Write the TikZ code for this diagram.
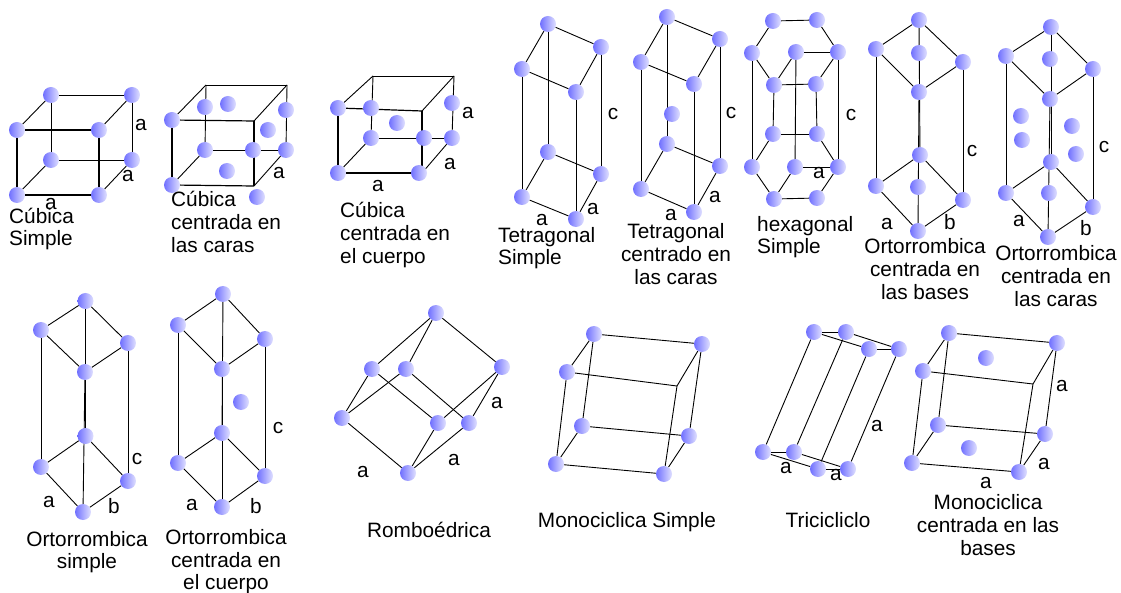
\documentclass[tikz,border=0pt]{standalone}
\usepackage{fontspec}
\usepackage{xcolor}
\setmainfont{Liberation Sans}
\usetikzlibrary{backgrounds}
\definecolor{atomblue}{RGB}{112,112,255}

\begin{document}
\begin{tikzpicture}[
  x=1pt, y=-1pt,
  atom/.style={circle, inner sep=0pt, minimum size=16pt, left color=atomblue, right color=atomblue!22!white},
  bond/.style={draw, line width=0.9pt},
  frontbond/.style={draw, line width=1.2pt},
  axislabel/.style={inner sep=0pt, font=\fontsize{20.8}{23}\selectfont},
  title/.style={inner sep=0pt, align=center, font=\fontsize{20.8}{22.6}\selectfont},
  titleleft/.style={title, align=left, anchor=west}
]
\useasboundingbox (0,0) rectangle (1121,593);

% Cubica simple
\node[atom] (csTB) at (51,95) {};
\node[atom] (csTR) at (132,95) {};
\node[atom] (csTL) at (17,130) {};
\node[atom] (csTF) at (99,130) {};
\node[atom] (csBB) at (51,160) {};
\node[atom] (csBR) at (132,160) {};
\node[atom] (csBL) at (17,195) {};
\node[atom] (csBF) at (99,195) {};
\node[axislabel] (csA) at (141,125) {a};
\node[axislabel] (csB) at (128,176) {a};
\node[axislabel] (csC) at (51,204) {a};
\node[titleleft] (csTitle) at (9,229) {Cúbica\\Simple};

% Cubica centrada en las caras
\coordinate (fcTB) at (206,85);
\coordinate (fcTR) at (287,85);
\coordinate (fcTF) at (254,121);
\coordinate (fcBF) at (254,186);
\node[atom] (fcTL) at (172,120) {};
\node[atom] (fcBL) at (172,185) {};
\node[atom] (fcBB) at (205,150) {};
\node[atom] (fcBR) at (286,150) {};
\node[atom] (fcM1) at (253,150) {};
\node[atom] (fcM2) at (257,197) {};
\node[atom] (fcM3) at (205,107) {};
\node[atom] (fcM4) at (228,104) {};
\node[atom] (fcM5) at (286,110) {};
\node[atom] (fcM6) at (268,130) {};
\node[atom] (fcM7) at (227,171) {};
\node[axislabel] (fcA) at (279,173) {a};
\node[titleleft] (fcTitle) at (171,222) {Cúbica\\centrada en\\las caras};

% Cubica centrada en el cuerpo
\coordinate (bcTB) at (373,76);
\coordinate (bcTR) at (454,76);
\coordinate (bcTF) at (422,111);
\coordinate (bcBF) at (422,173);
\node[atom] (bcTL) at (338,108) {};
\node[atom] (bcBL) at (338,173) {};
\node[atom] (bcF) at (419,173) {};
\node[atom] (bcBB) at (371,138) {};
\node[atom] (bcBR) at (452,138) {};
\node[atom] (bcM1) at (424,138) {};
\node[atom] (bcM2) at (371,108) {};
\node[atom] (bcM3) at (452,103) {};
\node[atom] (bcM4) at (397,123) {};
\node[axislabel] (bcA) at (468,113) {a};
\node[axislabel] (bcB) at (450,164) {a};
\node[axislabel] (bcC) at (378,186) {a};
\node[titleleft] (bcTitle) at (340,235) {Cúbica\\centrada en\\el cuerpo};

% Tetragonal simple
\node[atom] (tsTB) at (548,24) {};
\node[atom] (tsTL) at (522,69) {};
\node[atom] (tsTF) at (576,92) {};
\node[atom] (tsTR) at (601,47) {};
\node[atom] (tsBB) at (548,152) {};
\node[atom] (tsBL) at (522,197) {};
\node[atom] (tsBF) at (576,219) {};
\node[atom] (tsBR) at (601,174) {};
\node[axislabel] (tsA) at (613,114) {c};
\node[axislabel] (tsB) at (593,209) {a};
\node[axislabel] (tsC) at (542,220) {a};
\node[titleleft] (tsTitle) at (498,248) {Tetragonal\\Simple};

% Tetragonal centrado en las caras
\node[atom] (tcTB) at (667,17) {};
\node[atom] (tcTL) at (641,62) {};
\node[atom] (tcTF) at (694,84) {};
\node[atom] (tcTR) at (720,39) {};
\node[atom] (tcBB) at (667,144) {};
\node[atom] (tcBL) at (641,189) {};
\node[atom] (tcBF) at (694,212) {};
\node[atom] (tcBR) at (720,166) {};
\node[atom] (tcM) at (672,114) {};
\node[axislabel] (tcA) at (731,113) {c};
\node[axislabel] (tcB) at (715,197) {a};
\node[axislabel] (tcC) at (671,215) {a};
\node[title] (tcTitle) at (676,254) {Tetragonal\\centrado en\\las caras};

% Hexagonal simple
\node[atom] (hxT1) at (773,21) {};
\node[atom] (hxT2) at (817,20) {};
\node[atom] (hxT3) at (752,53) {};
\node[atom] (hxT4) at (838,52) {};
\node[atom] (hxT5) at (796,52) {};
\node[atom] (hxT6) at (774,85) {};
\node[atom] (hxT7) at (816,84) {};
\node[atom] (hxB1) at (773,134) {};
\node[atom] (hxB2) at (817,134) {};
\node[atom] (hxB3) at (752,167) {};
\node[atom] (hxB4) at (838,167) {};
\node[atom] (hxB5) at (795,167) {};
\node[atom] (hxB6) at (774,199) {};
\node[atom] (hxB7) at (817,198) {};
\node[axislabel] (hxA) at (851,115) {c};
\node[axislabel] (hxB) at (819,173) {a};
\node[titleleft] (hxTitle) at (757,237) {hexagonal\\Simple};

% Ortorrombica centrada en las bases
\node[atom] (obTB) at (919,20) {};
\node[atom] (obTL) at (876,49) {};
\node[atom] (obTR) at (963,62) {};
\node[atom] (obTF) at (919,92) {};
\node[atom] (obTM) at (919,53) {};
\node[atom] (obBB) at (920,155) {};
\node[atom] (obBL) at (876,186) {};
\node[atom] (obBR) at (963,200) {};
\node[atom] (obBF) at (918,231) {};
\node[atom] (obBM) at (918,187) {};
\node[axislabel] (obA) at (972,151) {c};
\node[axislabel] (obB) at (887,224) {a};
\node[axislabel] (obC) at (950,222) {b};
\node[title] (obTitle) at (925,269) {Ortorrombica\\centrada en\\las bases};

% Ortorrombica centrada en las caras
\node[atom] (ofTB) at (1051,27) {};
\node[atom] (ofTL) at (1006,56) {};
\node[atom] (ofTR) at (1093,69) {};
\node[atom] (ofTF) at (1050,99) {};
\node[atom] (ofTM) at (1050,59) {};
\node[atom] (ofBB) at (1051,162) {};
\node[atom] (ofBL) at (1006,193) {};
\node[atom] (ofBR) at (1093,207) {};
\node[atom] (ofBF) at (1048,237) {};
\node[atom] (ofBM) at (1049,193) {};
\node[atom] (ofM1) at (1021,116) {};
\node[atom] (ofM2) at (1022,140) {};
\node[atom] (ofM3) at (1072,126) {};
\node[atom] (ofM4) at (1076,154) {};
\node[axislabel] (ofA) at (1104,147) {c};
\node[axislabel] (ofB) at (1019,221) {a};
\node[axislabel] (ofC) at (1086,228) {b};
\node[title] (ofTitle) at (1056,276) {Ortorrombica\\centrada en\\las caras};

% Ortorrombica simple
\node[atom] (osTB) at (85.5,301) {};
\node[atom] (osTL) at (41,330) {};
\node[atom] (osTR) at (128,343) {};
\node[atom] (osTF) at (85,372) {};
\node[atom] (osBB) at (85.5,436) {};
\node[atom] (osBL) at (41,467) {};
\node[atom] (osBR) at (128,481) {};
\node[atom] (osBF) at (83,512) {};
\node[axislabel] (osA) at (137,459) {c};
\node[axislabel] (osB) at (49,502) {a};
\node[axislabel] (osC) at (114,506) {b};
\node[title] (osTitle) at (87,552) {Ortorrombica\\simple};

% Ortorrombica centrada en el cuerpo
\node[atom] (ocTB) at (223,294) {};
\node[atom] (ocTL) at (178,325) {};
\node[atom] (ocTR) at (265,339) {};
\node[atom] (ocTF) at (222,369) {};
\node[atom] (ocBB) at (222,433) {};
\node[atom] (ocBL) at (178,463) {};
\node[atom] (ocBR) at (265,476) {};
\node[atom] (ocBF) at (222,507) {};
\node[atom] (ocM) at (241,402) {};
\node[axislabel] (ocA) at (278,428) {c};
\node[axislabel] (ocB) at (192,505) {a};
\node[axislabel] (ocC) at (256,506) {b};
\node[title] (ocTitle) at (226,562) {Ortorrombica\\centrada en\\el cuerpo};

% Romboedrica
\node[atom] (rhT) at (436,313) {};
\node[atom] (rhU1) at (372,369) {};
\node[atom] (rhU2) at (406,369) {};
\node[atom] (rhU3) at (502,367) {};
\node[atom] (rhL1) at (342,418) {};
\node[atom] (rhL2) at (438,423) {};
\node[atom] (rhL3) at (469,423) {};
\node[atom] (rhB) at (408,473) {};
\node[axislabel] (rhA) at (497,403) {a};
\node[axislabel] (rhC) at (454,460) {a};
\node[axislabel] (rhD) at (363,472) {a};
\node[title] (rhTitle) at (429,530) {Romboédrica};

% Monociclica simple
\coordinate (msTF) at (677,386);
\node[atom] (msTB) at (594,334) {};
\node[atom] (msTR) at (702,344) {};
\node[atom] (msTL) at (567,372) {};
\node[atom] (msBB) at (582,426) {};
\node[atom] (msBR) at (689,436) {};
\node[atom] (msBL) at (556,464) {};
\node[atom] (msBF) at (664,474) {};
\node[title] (msTitle) at (627,522) {Monociclica Simple};

% Tricicliclo
\node[atom] (trT1) at (814,332) {};
\node[atom] (trT2) at (846,332) {};
\node[atom] (trT3) at (869,349) {};
\node[atom] (trT4) at (899,349) {};
\node[atom] (trB1) at (763,452) {};
\node[atom] (trB2) at (794,452) {};
\node[atom] (trB3) at (818,469) {};
\node[atom] (trB4) at (848,469) {};
\node[axislabel] (trA) at (786,468) {a};
\node[axislabel] (trC) at (836,475) {a};
\node[axislabel] (trD) at (877,426) {a};
\node[title] (trTitle) at (828,520) {Tricicliclo};

% Monociclica centrada en las bases
\coordinate (mbTF) at (1033,384);
\node[atom] (mbTB) at (949,333) {};
\node[atom] (mbTR) at (1057,343) {};
\node[atom] (mbTL) at (923,371) {};
\node[atom] (mbBB) at (938,425) {};
\node[atom] (mbBR) at (1045,434) {};
\node[atom] (mbBL) at (912,463) {};
\node[atom] (mbBF) at (1019,472) {};
\node[atom] (mbM1) at (986,358) {};
\node[atom] (mbM2) at (969,448) {};
\node[axislabel] (mbA) at (1062,386) {a};
\node[axislabel] (mbB) at (1044,464) {a};
\node[axislabel] (mbC) at (986,483) {a};
\node[title] (mbTitle) at (988,525) {Monociclica\\centrada en las\\bases};

% Bonds, behind the atoms
\begin{scope}[on background layer]
\draw[bond] (csTB) -- (csTR);
\draw[bond] (csTB) -- (csTL);
\draw[bond] (csTR) -- (csTF);
\draw[frontbond] (csTL) -- (csTF);
\draw[bond] (csBB) -- (csBR);
\draw[bond] (csBB) -- (csBL);
\draw[bond] (csBR) -- (csBF);
\draw[frontbond] (csBL) -- (csBF);
\draw[bond] (csTB) -- (csBB);
\draw[bond] (csTR) -- (csBR);
\draw[frontbond] (csTL) -- (csBL);
\draw[frontbond] (csTF) -- (csBF);

\draw[bond] (fcTB) -- (fcTR);
\draw[bond] (fcTB) -- (fcTL);
\draw[bond] (fcTR) -- (fcTF);
\draw[frontbond] (fcTL) -- (fcTF);
\draw[bond] (fcBB) -- (fcBR);
\draw[bond] (fcBB) -- (fcBL);
\draw[bond] (fcBR) -- (fcBF);
\draw[frontbond] (fcBL) -- (fcBF);
\draw[bond] (fcTB) -- (fcBB);
\draw[bond] (fcTR) -- (fcBR);
\draw[frontbond] (fcTL) -- (fcBL);
\draw[frontbond] (fcTF) -- (fcBF);

\draw[bond] (bcTB) -- (bcTR);
\draw[bond] (bcTB) -- (bcTL);
\draw[bond] (bcTR) -- (bcTF);
\draw[frontbond] (bcTL) -- (bcTF);
\draw[bond] (bcBB) -- (bcBR);
\draw[bond] (bcBB) -- (bcBL);
\draw[bond] (bcBR) -- (bcBF);
\draw[frontbond] (bcBL) -- (bcF);
\draw[bond] (bcTB) -- (bcBB);
\draw[bond] (bcTR) -- (bcBR);
\draw[frontbond] (bcTL) -- (bcBL);
\draw[frontbond] (bcTF) -- (bcBF);

\draw[bond] (tsTB) -- (tsTL);
\draw[bond] (tsTB) -- (tsTR);
\draw[bond] (tsTF) -- (tsTL);
\draw[bond] (tsTF) -- (tsTR);
\draw[bond] (tsBB) -- (tsBL);
\draw[bond] (tsBB) -- (tsBR);
\draw[bond] (tsBF) -- (tsBL);
\draw[bond] (tsBF) -- (tsBR);
\draw[bond] (tsTB) -- (tsBB);
\draw[bond] (tsTL) -- (tsBL);
\draw[bond] (tsTF) -- (tsBF);
\draw[bond] (tsTR) -- (tsBR);

\draw[bond] (tcTB) -- (tcTL);
\draw[bond] (tcTB) -- (tcTR);
\draw[bond] (tcTF) -- (tcTL);
\draw[bond] (tcTF) -- (tcTR);
\draw[bond] (tcBB) -- (tcBL);
\draw[bond] (tcBB) -- (tcBR);
\draw[bond] (tcBF) -- (tcBL);
\draw[bond] (tcBF) -- (tcBR);
\draw[bond] (tcTB) -- (tcBB);
\draw[bond] (tcTL) -- (tcBL);
\draw[bond] (tcTF) -- (tcBF);
\draw[bond] (tcTR) -- (tcBR);

\draw[bond] (hxT1) -- (hxT2);
\draw[bond] (hxT2) -- (hxT4);
\draw[bond] (hxT4) -- (hxT7);
\draw[bond] (hxT7) -- (hxT6);
\draw[bond] (hxT6) -- (hxT3);
\draw[bond] (hxT3) -- (hxT1);
\draw[bond] (hxT5) -- (hxT4);
\draw[bond] (hxT5) -- (hxT6);
\draw[bond] (hxB1) -- (hxB2);
\draw[bond] (hxB2) -- (hxB4);
\draw[bond] (hxB4) -- (hxB7);
\draw[bond] (hxB7) -- (hxB6);
\draw[bond] (hxB6) -- (hxB3);
\draw[bond] (hxB3) -- (hxB1);
\draw[bond] (hxB5) -- (hxB4);
\draw[bond] (hxB5) -- (hxB6);
\draw[bond] (hxT3) -- (hxB3);
\draw[bond] (hxT4) -- (hxB4);
\draw[bond] (hxT5) -- (hxB5);
\draw[bond] (hxT6) -- (hxB1);
\draw[bond] (hxT7) -- (hxB2);

\draw[bond] (obTB) -- (obTL);
\draw[bond] (obTB) -- (obTR);
\draw[bond] (obTF) -- (obTL);
\draw[bond] (obTF) -- (obTR);
\draw[bond] (obBB) -- (obBL);
\draw[bond] (obBB) -- (obBR);
\draw[bond] (obBF) -- (obBL);
\draw[bond] (obBF) -- (obBR);
\draw[bond] (obTB) -- (obBB);
\draw[bond] (obTL) -- (obBL);
\draw[bond] (obTF) -- (obBF);
\draw[bond] (obTR) -- (obBR);

\draw[bond] (ofTB) -- (ofTL);
\draw[bond] (ofTB) -- (ofTR);
\draw[bond] (ofTF) -- (ofTL);
\draw[bond] (ofTF) -- (ofTR);
\draw[bond] (ofBB) -- (ofBL);
\draw[bond] (ofBB) -- (ofBR);
\draw[bond] (ofBF) -- (ofBL);
\draw[bond] (ofBF) -- (ofBR);
\draw[bond] (ofTB) -- (ofBB);
\draw[bond] (ofTL) -- (ofBL);
\draw[bond] (ofTF) -- (ofBF);
\draw[bond] (ofTR) -- (ofBR);

\draw[bond] (osTB) -- (osTL);
\draw[bond] (osTB) -- (osTR);
\draw[bond] (osTF) -- (osTL);
\draw[bond] (osTF) -- (osTR);
\draw[bond] (osBB) -- (osBL);
\draw[bond] (osBB) -- (osBR);
\draw[bond] (osBF) -- (osBL);
\draw[bond] (osBF) -- (osBR);
\draw[bond] (osTB) -- (osBB);
\draw[bond] (osTL) -- (osBL);
\draw[bond] (osTF) -- (osBF);
\draw[bond] (osTR) -- (osBR);

\draw[bond] (ocTB) -- (ocTL);
\draw[bond] (ocTB) -- (ocTR);
\draw[bond] (ocTF) -- (ocTL);
\draw[bond] (ocTF) -- (ocTR);
\draw[bond] (ocBB) -- (ocBL);
\draw[bond] (ocBB) -- (ocBR);
\draw[bond] (ocBF) -- (ocBL);
\draw[bond] (ocBF) -- (ocBR);
\draw[bond] (ocTB) -- (ocBB);
\draw[bond] (ocTL) -- (ocBL);
\draw[bond] (ocTF) -- (ocBF);
\draw[bond] (ocTR) -- (ocBR);

\draw[bond] (rhT) -- (rhU1);
\draw[bond] (rhT) -- (rhU2);
\draw[bond] (rhT) -- (rhU3);
\draw[bond] (rhU1) -- (rhL1);
\draw[bond] (rhU1) -- (rhL2);
\draw[bond] (rhU2) -- (rhL1);
\draw[bond] (rhU2) -- (rhL3);
\draw[bond] (rhU3) -- (rhL2);
\draw[bond] (rhU3) -- (rhL3);
\draw[bond] (rhL1) -- (rhB);
\draw[bond] (rhL2) -- (rhB);
\draw[bond] (rhL3) -- (rhB);

\draw[bond] (msTB) -- (msTR);
\draw[bond] (msTB) -- (msTL);
\draw[bond] (msTR) -- (msTF);
\draw[bond] (msTL) -- (msTF);
\draw[bond] (msBB) -- (msBR);
\draw[bond] (msBB) -- (msBL);
\draw[bond] (msBR) -- (msBF);
\draw[bond] (msBL) -- (msBF);
\draw[bond] (msTB) -- (msBB);
\draw[bond] (msTR) -- (msBR);
\draw[bond] (msTL) -- (msBL);
\draw[bond] (msTF) -- (msBF);

\draw[bond] (trT1) -- (trT2);
\draw[bond] (trT1) -- (trT3);
\draw[bond] (trT2) -- (trT4);
\draw[bond] (trT3) -- (trT4);
\draw[bond] (trB1) -- (trB2);
\draw[bond] (trB1) -- (trB3);
\draw[bond] (trB2) -- (trB4);
\draw[bond] (trB3) -- (trB4);
\draw[bond] (trT1) -- (trB1);
\draw[bond] (trT2) -- (trB2);
\draw[bond] (trT3) -- (trB3);
\draw[bond] (trT4) -- (trB4);

\draw[bond] (mbTB) -- (mbTR);
\draw[bond] (mbTB) -- (mbTL);
\draw[bond] (mbTR) -- (mbTF);
\draw[bond] (mbTL) -- (mbTF);
\draw[bond] (mbBB) -- (mbBR);
\draw[bond] (mbBB) -- (mbBL);
\draw[bond] (mbBR) -- (mbBF);
\draw[bond] (mbBL) -- (mbBF);
\draw[bond] (mbTB) -- (mbBB);
\draw[bond] (mbTR) -- (mbBR);
\draw[bond] (mbTL) -- (mbBL);
\draw[bond] (mbTF) -- (mbBF);
\end{scope}
\end{tikzpicture}
\end{document}
